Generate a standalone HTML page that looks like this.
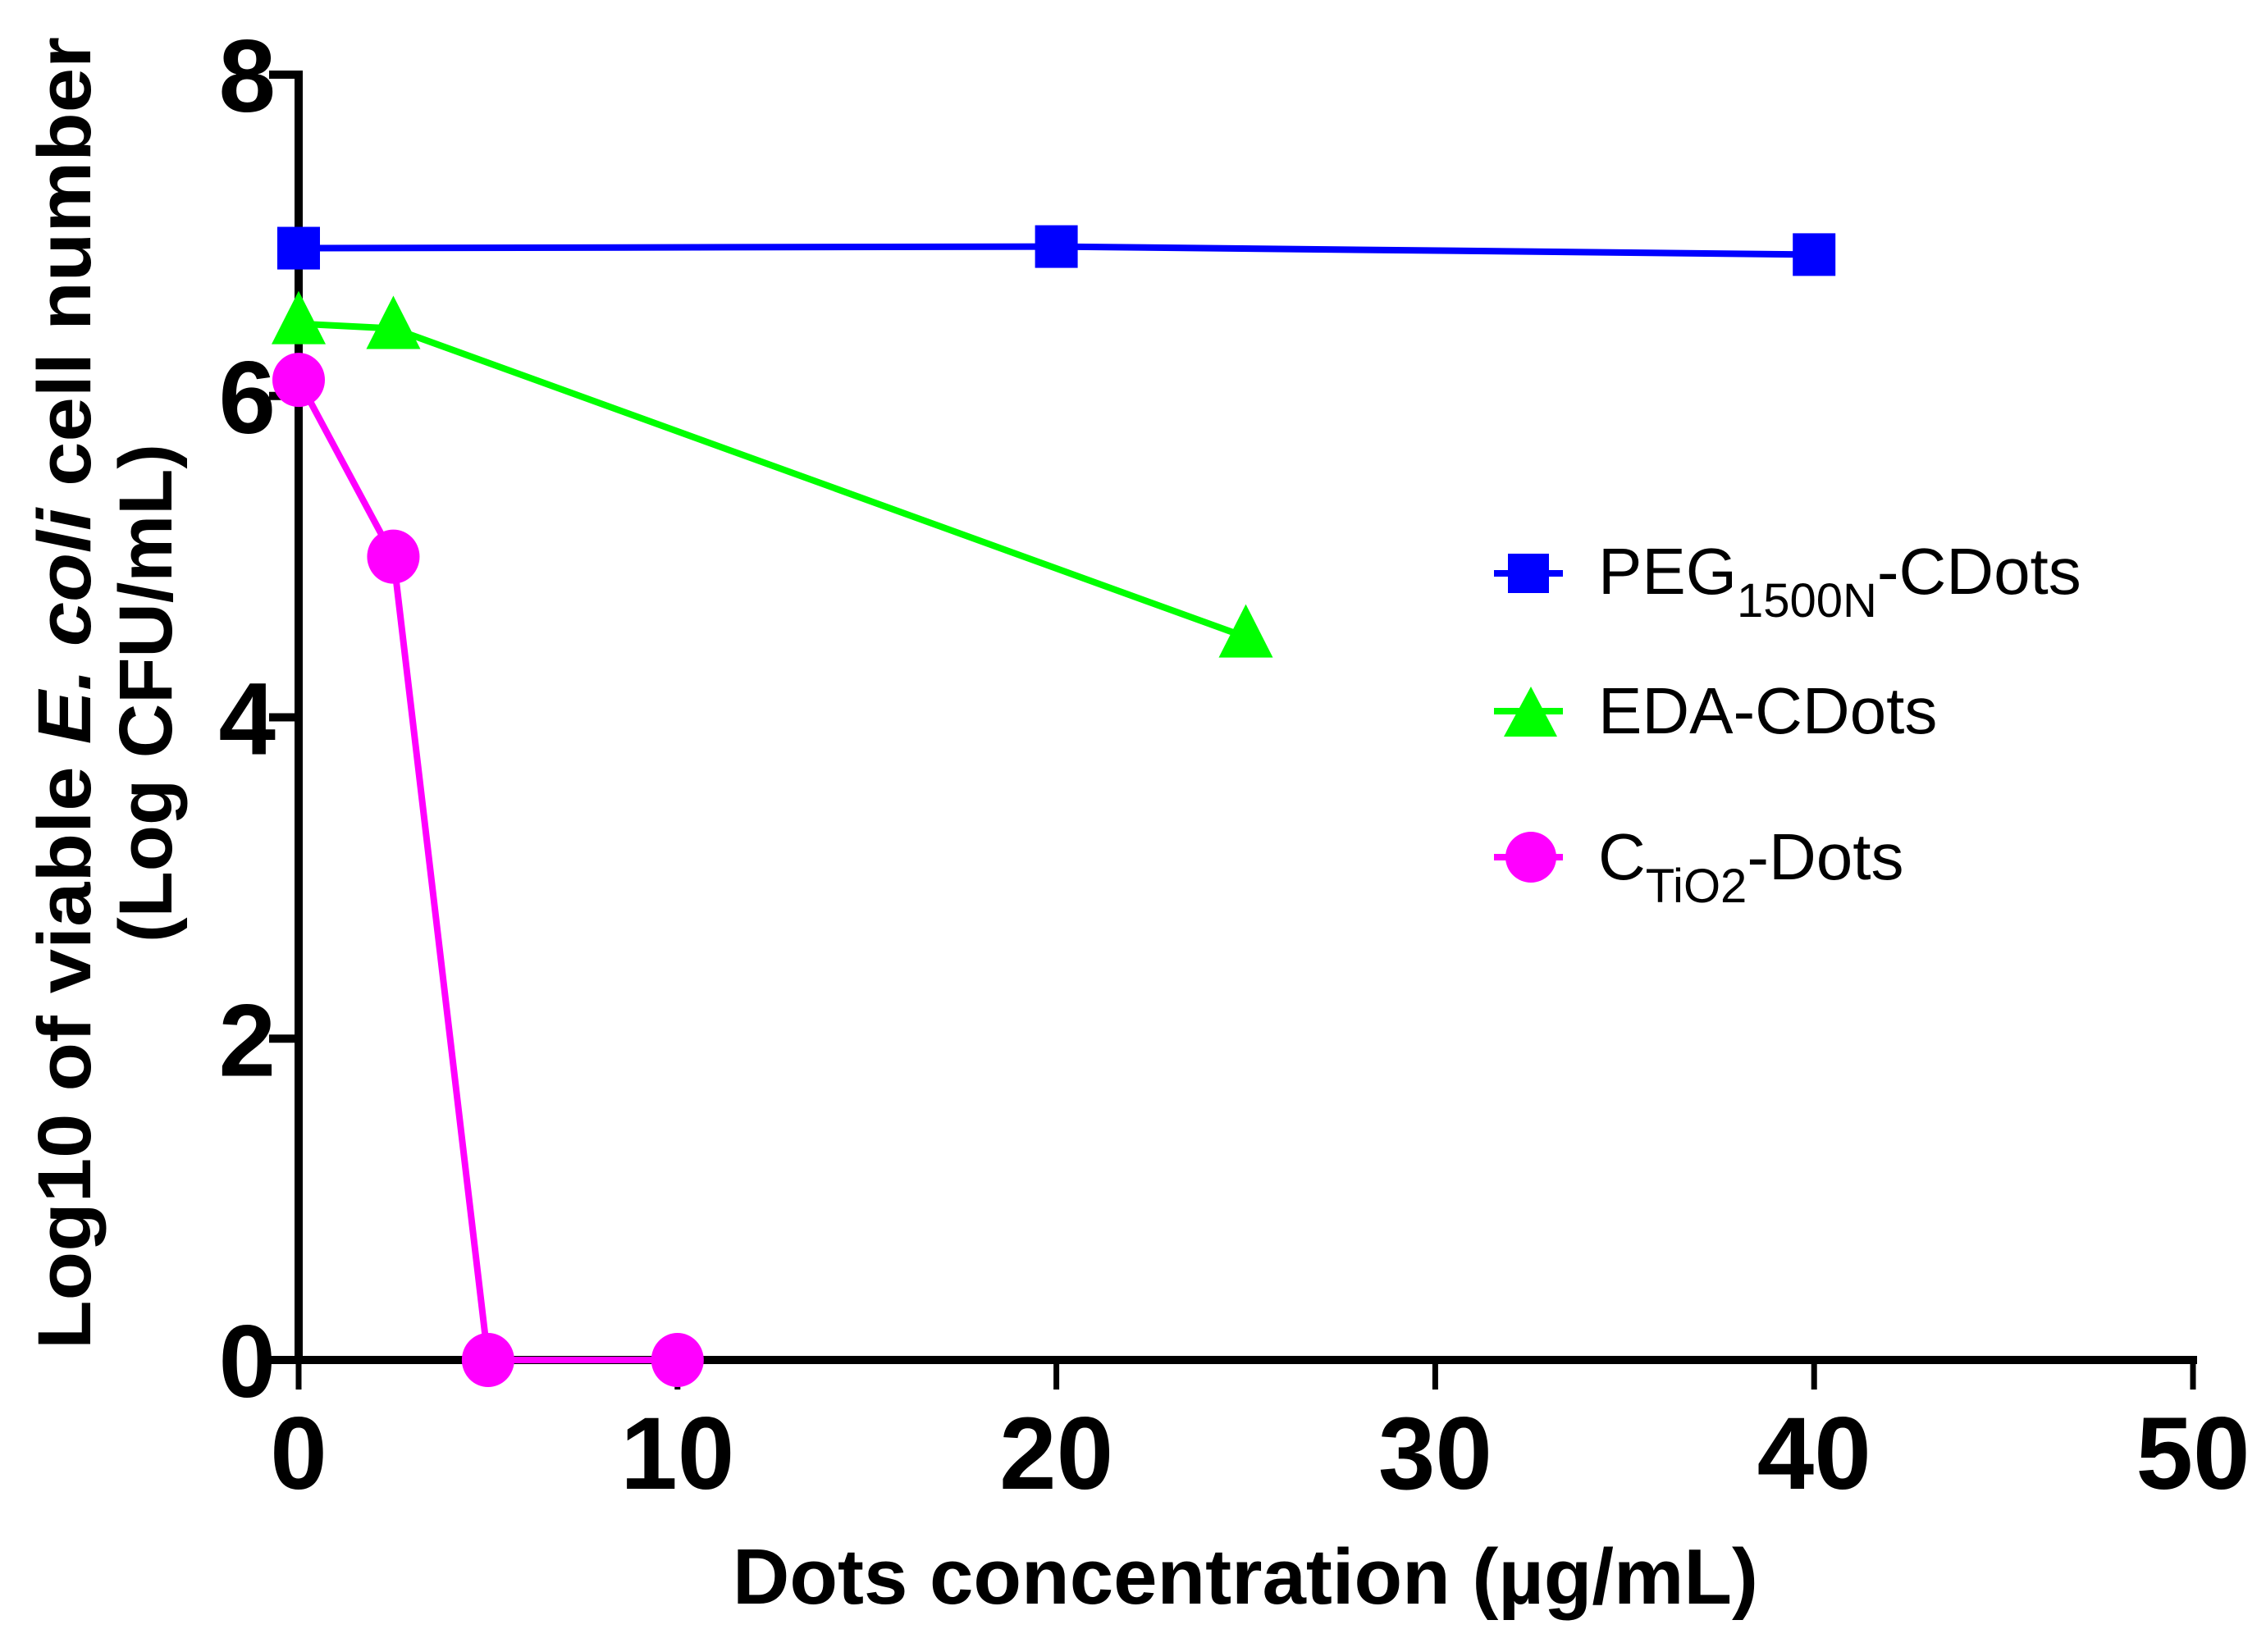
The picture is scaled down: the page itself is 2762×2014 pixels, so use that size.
<!DOCTYPE html>
<html><head><meta charset="utf-8"><style>
html,body{margin:0;padding:0;background:#fff;}
svg{display:block;font-family:"Liberation Sans",Arial,sans-serif;}
</style></head><body>
<svg id="chart" width="2762" height="2014" viewBox="0 0 2762 2014" xmlns="http://www.w3.org/2000/svg">
<g id="plot"></g>
<text x="79" y="845" transform="rotate(-90 79 845)" text-anchor="middle" dominant-baseline="central" font-weight="bold" font-size="92" textLength="1600" lengthAdjust="spacingAndGlyphs">Log10 of viable <tspan font-style="italic">E. coli</tspan> cell number</text>
<text x="178" y="845" transform="rotate(-90 178 845)" text-anchor="middle" dominant-baseline="central" font-weight="bold" font-size="92">(Log CFU/mL)</text>
<text x="1518" y="1955" text-anchor="middle" font-weight="bold" font-size="96">Dots concentration (µg/mL)</text>
<g>
 <g>
  <line x1="1821" y1="699" x2="1905" y2="699" stroke="#0000ff" stroke-width="8"/>
  <rect x="1838" y="675" width="50" height="48" fill="#0000ff"/>
  <text x="1948" y="724" font-size="80">PEG<tspan font-size="58" dy="28">1500N</tspan><tspan dy="-28">-CDots</tspan></text>
 </g>
 <g>
  <line x1="1821" y1="867" x2="1905" y2="867" stroke="#00ff00" stroke-width="8"/>
  <polygon points="1866,837 1898,898 1833,898" fill="#00ff00"/>
  <text x="1948" y="894" font-size="80">EDA-CDots</text>
 </g>
 <g>
  <line x1="1821" y1="1045" x2="1905" y2="1045" stroke="#ff00ff" stroke-width="8"/>
  <ellipse cx="1866" cy="1045" rx="31" ry="31" fill="#ff00ff"/>
  <text x="1948" y="1072" font-size="80">C<tspan font-size="58" dy="28">TiO2</tspan><tspan dy="-28">-Dots</tspan></text>
 </g>
</g>
</svg>
<script>
const xTicks=[0,10,20,30,40,50];
const yTicks=[0,2,4,6,8];
const pegX=[0,20,40];
const pegY=[6.92,6.93,6.88];
const edaX=[0,2.5,25];
const edaY=[6.45,6.42,4.5];
const tioX=[0,2.5,5,10];
const tioY=[6.1,5.0,0,0];

const X0=364,X1=2673,Y0=1658,Y1=91;
function sx(v){return X0+(v-0)/(50-0)*(X1-X0);}
function sy(v){return Y0-(v-0)/(8-0)*(Y0-Y1);}
const NS="http://www.w3.org/2000/svg";
const plot=document.getElementById('plot');
function mk(tag,attrs,parent){const e=document.createElementNS(NS,tag);for(const k in attrs)e.setAttribute(k,attrs[k]);(parent||plot).appendChild(e);return e;}

let a=mk('line',{x1:X0,y1:Y1-5,x2:X0,y2:Y0+5,stroke:'#000','stroke-width':10});


a=mk('line',{x1:X0-36,y1:Y0,x2:X1+5,y2:Y0,stroke:'#000','stroke-width':10});


yTicks.forEach(t=>{
 const y=sy(t);
 const l=mk('line',{x1:X0-36,y1:y,x2:X0,y2:y,stroke:'#000','stroke-width':10});
 
 
 const tx=mk('text',{x:X0-28,y:y+45,'text-anchor':'end','font-weight':'bold','font-size':125});
 tx.textContent=t;
 
 
});
xTicks.forEach(t=>{
 const x=sx(t);
 const l=mk('line',{x1:x,y1:Y0,x2:x,y2:Y0+36,stroke:'#000','stroke-width':7});
 
 
 const tx=mk('text',{x:x,y:1815,'text-anchor':'middle','font-weight':'bold','font-size':125});
 tx.textContent=t;
 
 
});
function series(xs,ys,color,shape,name){
 const pts=xs.map((x,i)=>sx(x)+','+sy(ys[i])).join(' ');
 const pl=mk('polyline',{points:pts,fill:'none',stroke:color,'stroke-width':8});
 
 
 xs.forEach((x,i)=>{
  const cx=sx(x),cy=sy(ys[i]);let m;
  if(shape==='sq')m=mk('rect',{x:cx-26,y:cy-26,width:52,height:52,fill:color});
  else if(shape==='tri')m=mk('polygon',{points:`${cx},${cy-40} ${cx+33},${cy+25} ${cx-33},${cy+25}`,fill:color});
  else m=mk('ellipse',{cx:cx,cy:cy,rx:32,ry:33,fill:color});
  
  
 });
}
series(pegX,pegY,'#0000ff','sq','peg-series');
series(edaX,edaY,'#00ff00','tri','eda-series');
series(tioX,tioY,'#ff00ff','circ','ctio2-series');
</script>
</body></html>
